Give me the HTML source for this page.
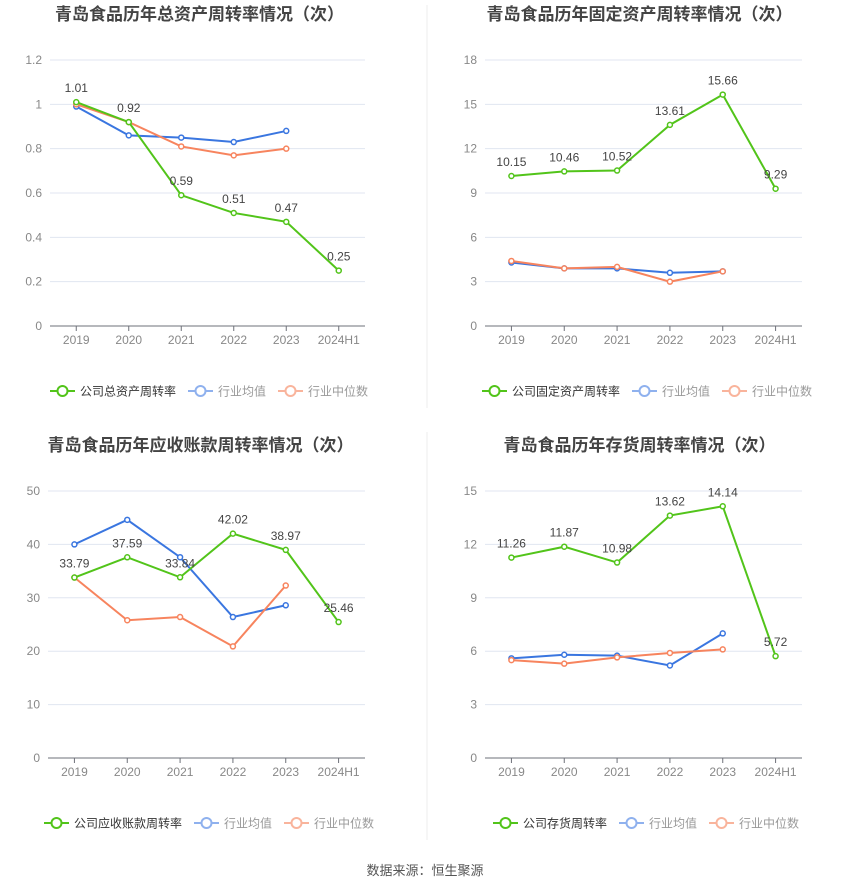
<!DOCTYPE html>
<html><head><meta charset="utf-8"><style>
body{margin:0;background:#fff;font-family:"Liberation Sans","Noto Sans CJK SC",sans-serif;}
svg text{font-family:"Liberation Sans","Noto Sans CJK SC",sans-serif;}
</style></head><body>
<svg id="c" width="850" height="891" xmlns="http://www.w3.org/2000/svg">
<line x1="427" y1="5" x2="427" y2="408" stroke="#eee"/>
<line x1="427" y1="432" x2="427" y2="840" stroke="#eee"/>
<text x="425" y="875" text-anchor="middle" font-size="13" fill="#555">数据来源：恒生聚源</text>
</svg>
<script>
const categories=["2019","2020","2021","2022","2023","2024H1"];
const c1Company=[1.01,0.92,0.59,0.51,0.47,0.25];
const c1Avg=[0.99,0.86,0.85,0.83,0.88];
const c1Median=[1.00,0.92,0.81,0.77,0.80];
const c1Ticks=[0,0.2,0.4,0.6,0.8,1,1.2];
const c2Company=[10.15,10.46,10.52,13.61,15.66,9.29];
const c2Avg=[4.3,3.9,3.9,3.6,3.7];
const c2Median=[4.4,3.9,4.0,3.0,3.7];
const c2Ticks=[0,3,6,9,12,15,18];
const c3Company=[33.79,37.59,33.84,42.02,38.97,25.46];
const c3Avg=[40.0,44.6,37.6,26.4,28.6];
const c3Median=[33.8,25.8,26.4,20.9,32.3];
const c3Ticks=[0,10,20,30,40,50];
const c4Company=[11.26,11.87,10.98,13.62,14.14,5.72];
const c4Avg=[5.6,5.8,5.75,5.2,7.0];
const c4Median=[5.5,5.3,5.65,5.9,6.1];
const c4Ticks=[0,3,6,9,12,15];

const svg=document.getElementById('c');
const NS="http://www.w3.org/2000/svg";
function mk(tag,attrs,parent){const e=document.createElementNS(NS,tag);for(const k in attrs)e.setAttribute(k,attrs[k]);(parent||svg).appendChild(e);return e;}

function chart(cfg){
  const g=mk('g',{});
  
  
  const {x0,x1,yb,yt,ticks}=cfg;
  const max=ticks[ticks.length-1];
  const band=(x1-x0)/categories.length;
  const X=i=>x0+band*(i+0.5);
  const Y=v=>yb-(v/max)*(yb-yt);
  const t=mk('text',{x:(x0+x1)/2+cfg.tdx,y:cfg.ty,'text-anchor':'middle','font-size':17,'font-weight':'bold',fill:'#444'},g);
  t.textContent=cfg.title;
  
  
  ticks.forEach(v=>{
    if(v>0){const l=mk('line',{x1:x0,x2:x1,y1:Y(v),y2:Y(v),stroke:'#e0e6f1'},g);
    
    }
    const tx=mk('text',{x:x0-8,y:Y(v)+4,'text-anchor':'end','font-size':12,fill:'#888'},g);
    tx.textContent=String(v);
    
    
  });
  const ax=mk('line',{x1:x0,x2:x1,y1:yb,y2:yb,stroke:'#6e7079'},g);
  
  
  categories.forEach((c,i)=>{
    const tk=mk('line',{x1:X(i),x2:X(i),y1:yb,y2:yb+5,stroke:'#6e7079'},g);
    
    
    const tx=mk('text',{x:X(i),y:yb+18,'text-anchor':'middle','font-size':12,fill:'#888'},g);
    tx.textContent=c;
    
    
  });
  const series=[[cfg.avg,'#3a76e0','industry-average-line'],[cfg.median,'#f7845e','industry-median-line'],[cfg.company,'#52c41a','company-line']];
  series.forEach(([arr,col,name])=>{
    const p=mk('polyline',{points:arr.map((v,i)=>X(i)+','+Y(v)).join(' '),fill:'none',stroke:col,'stroke-width':2},g);
    
    
    arr.forEach((v,i)=>{
      const c=mk('circle',{cx:X(i),cy:Y(v),r:2.5,fill:'#fff',stroke:col,'stroke-width':1.5},g);
      
      
    });
  });
  cfg.company.forEach((v,i)=>{
    const tx=mk('text',{x:X(i),y:Y(v)-10,'text-anchor':'middle','font-size':12,fill:'#444'},g);
    tx.textContent=v.toFixed(2).replace(/\.00$/,'');
    
    
  });
  const ly=cfg.ly;
  const items=[[cfg.lname,'#52c41a','#333'],['行业均值','#8fb1ee','#999'],['行业中位数','#f9b49c','#999']];
  let lx=cfg.lx;
  items.forEach(([txt,col,tc],k)=>{
    const leg=mk('g',{},g);
    
    
    mk('line',{x1:lx,x2:lx+25,y1:ly,y2:ly,stroke:col,'stroke-width':2},leg);
    mk('circle',{cx:lx+12.5,cy:ly,r:5,fill:'#fff',stroke:col,'stroke-width':2},leg);
    const tx=mk('text',{x:lx+30,y:ly+4.5,'font-size':12,fill:tc},leg);
    tx.textContent=txt;
    lx+=30+txt.length*12+12;
  });
}
chart({id:'total-asset-turnover-chart',title:'青岛食品历年总资产周转率情况（次）',x0:50,x1:365,yb:326,yt:60,ticks:c1Ticks,company:c1Company,avg:c1Avg,median:c1Median,ty:20,tdx:-8,ly:391,lx:50,lname:'公司总资产周转率'});
chart({id:'fixed-asset-turnover-chart',title:'青岛食品历年固定资产周转率情况（次）',x0:485,x1:802,yb:326,yt:60,ticks:c2Ticks,company:c2Company,avg:c2Avg,median:c2Median,ty:20,tdx:-4,ly:391,lx:482,lname:'公司固定资产周转率'});
chart({id:'receivables-turnover-chart',title:'青岛食品历年应收账款周转率情况（次）',x0:48,x1:365,yb:758,yt:491,ticks:c3Ticks,company:c3Company,avg:c3Avg,median:c3Median,ty:451,tdx:-6,ly:823,lx:44,lname:'公司应收账款周转率'});
chart({id:'inventory-turnover-chart',title:'青岛食品历年存货周转率情况（次）',x0:485,x1:802,yb:758,yt:491,ticks:c4Ticks,company:c4Company,avg:c4Avg,median:c4Median,ty:451,tdx:-4,ly:823,lx:493,lname:'公司存货周转率'});
</script>
</body></html>
